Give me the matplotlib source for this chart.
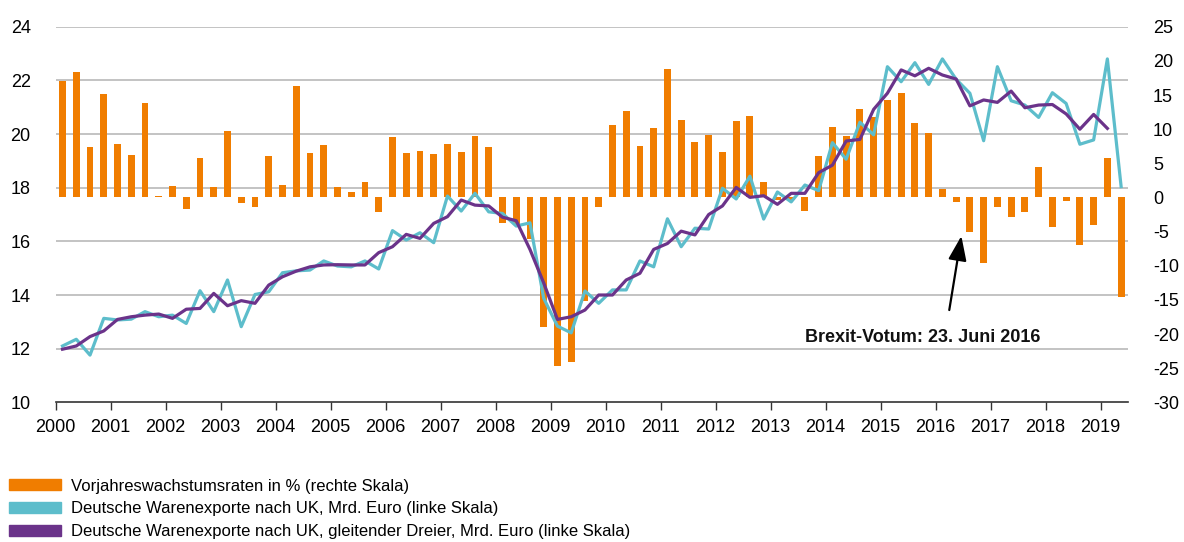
import matplotlib
matplotlib.use("Agg")
import matplotlib.pyplot as plt
from matplotlib.patches import Patch
from matplotlib.transforms import blended_transform_factory

plt.rcParams['font.family'] = ['Liberation Sans', 'DejaVu Sans']
plt.rcParams['font.size'] = 13
plt.rcParams['axes.unicode_minus'] = False

# Quartale 2000Q1 bis 2019Q2
quarters = [f"{y}Q{q}" for y in range(2000, 2020) for q in range(1, 5)][:78]

# Vorjahreswachstumsraten in % (rechte Skala)
growth = [17.1, 18.4, 7.4, 15.1,
          7.8, 6.2, 13.9, 0.2,
          1.7, -1.65, 5.8, 1.5,
          9.7, -0.8, -1.4, 6.1,
          1.8, 16.3, 6.5, 7.7,
          1.6, 0.8, 2.3, -2.2,
          8.8, 6.5, 6.8, 6.4,
          7.8, 6.7, 9.0, 7.4,
          -3.8, -4.0, -6.1, -19.0,
          -24.7, -24.1, -15.2, -1.45,
          10.6, 12.7, 7.6, 10.1,
          18.75, 11.4, 8.1, 9.2,
          6.6, 11.2, 12.0, 2.25,
          -0.4, -0.4, -2.0, 6.1,
          10.3, 9.0, 12.9, 11.8,
          14.3, 15.3, 10.85, 9.5,
          1.3, -0.6, -5.1, -9.65,
          -1.35, -2.9, -2.1, 4.4,
          -4.3, -0.5, -6.9, -4.1,
          5.8, -14.6]

# Deutsche Warenexporte nach UK, Mrd. Euro (linke Skala)
exports = [12.10, 12.35, 11.76, 13.13,
           13.07, 13.10, 13.38, 13.19,
           13.25, 12.94, 14.16, 13.38,
           14.56, 12.82, 14.02, 14.12,
           14.83, 14.90, 14.93, 15.27,
           15.08, 15.05, 15.27, 14.97,
           16.40, 16.05, 16.32, 15.95,
           17.69, 17.13, 17.79, 17.10,
           17.04, 16.57, 16.69, 13.88,
           12.84, 12.59, 14.15, 13.69,
           14.19, 14.19, 15.27, 15.05,
           16.84, 15.80, 16.49, 16.46,
           17.98, 17.58, 18.43, 16.83,
           17.84, 17.47, 18.10, 17.89,
           19.68, 19.06, 20.44, 19.97,
           22.51, 21.95, 22.66, 21.85,
           22.80, 22.04, 21.52, 19.75,
           22.51, 21.24, 21.08, 20.62,
           21.54, 21.14, 19.62, 19.78,
           22.80, 18.04]

# gleitender Dreier (bis 2019Q1)
exports_avg = [11.98, 12.10, 12.45, 12.66,
               13.09, 13.19, 13.25, 13.29,
               13.13, 13.47, 13.50, 14.06,
               13.60, 13.79, 13.69, 14.37,
               14.68, 14.89, 15.05, 15.12,
               15.13, 15.12, 15.12, 15.58,
               15.80, 16.26, 16.11, 16.67,
               16.92, 17.54, 17.35, 17.32,
               16.90, 16.77, 15.70, 14.45,
               13.09, 13.19, 13.44, 14.00,
               14.00, 14.56, 14.81, 15.70,
               15.92, 16.38, 16.24, 17.00,
               17.32, 18.01, 17.64, 17.70,
               17.38, 17.79, 17.79, 18.56,
               18.84, 19.74, 19.80, 20.92,
               21.52, 22.39, 22.17, 22.45,
               22.20, 22.05, 21.05, 21.27,
               21.18, 21.60, 20.98, 21.08,
               21.10, 20.75, 20.18, 20.73,
               20.21]

years = list(range(2000, 2020))
left_ticks = list(range(10, 25, 2))
right_ticks = list(range(-30, 26, 5))

labels = ["Vorjahreswachstumsraten in % (rechte Skala)",
          "Deutsche Warenexporte nach UK, Mrd. Euro (linke Skala)",
          "Deutsche Warenexporte nach UK, gleitender Dreier, Mrd. Euro (linke Skala)"]

c_orange = "#F07D00"
c_cyan = "#5DBDCB"
c_purple = "#6B338A"

x = [int(s[:4]) + (int(s[-1]) - 0.5) / 4 for s in quarters]

fig = plt.figure(figsize=(11.84, 5.42), dpi=100)
ax_bar = fig.add_axes([0.047, 0.2577, 0.9057, 0.693])
ax_line = ax_bar.twinx()
ax_bar.yaxis.tick_right()
ax_line.yaxis.tick_left()

ax_bar.set_xlim(2000, 2019.5)
ax_bar.set_ylim(-30, 25)
ax_line.set_ylim(10, 24)

# Gitterlinien an der linken Skala, hinter den Balken
trans = blended_transform_factory(ax_bar.transAxes, ax_line.transData)
for v in left_ticks[1:]:
    ax_bar.plot([0, 1], [v, v], transform=trans, color="#b3b3b3", lw=1.1, zorder=0.5)

ax_bar.bar(x, growth, width=0.125, color=c_orange, zorder=2)
ax_line.plot(x, exports, color=c_cyan, lw=2.3, zorder=3)
ax_line.plot(x[:len(exports_avg)], exports_avg, color=c_purple, lw=2.3, zorder=4)

ax_bar.set_xticks(years)
ax_bar.set_xticklabels([str(y) for y in years])
ax_bar.tick_params(axis='x', length=6, width=1, pad=6, color="#333333")
ax_bar.set_yticks(right_ticks)
ax_bar.set_yticklabels([str(v) for v in right_ticks])
ax_bar.tick_params(axis='y', length=0, pad=18)
ax_line.set_yticks(left_ticks)
ax_line.set_yticklabels([str(v) for v in left_ticks])
ax_line.tick_params(axis='y', length=0, pad=18)

for sp in ['top', 'left', 'right']:
    ax_bar.spines[sp].set_visible(False)
for sp in ax_line.spines.values():
    sp.set_visible(False)
ax_bar.spines['bottom'].set_color("#333333")
ax_bar.spines['bottom'].set_linewidth(1.2)

ax_line.annotate("", xy=(2016.47, 16.2), xytext=(2016.25, 13.44),
                 arrowprops=dict(arrowstyle="-|>,head_length=0.75,head_width=0.28",
                                 mutation_scale=20, color="black", lw=1.6,
                                 shrinkA=0, shrinkB=0))
ax_line.text(2013.62, 12.43, "Brexit-Votum: 23. Juni 2016", ha='left', va='center',
             fontsize=13, fontweight='bold', color="#111111")

handles = [Patch(color=c_orange), Patch(color=c_cyan), Patch(color=c_purple)]
fig.legend(handles, labels, loc='upper left', bbox_to_anchor=(0.0076, 0.117),
           frameon=False, fontsize=12, handlelength=3.1, handleheight=0.65,
           handletextpad=0.6, labelspacing=0.47, borderaxespad=0, borderpad=0)

fig.savefig("out.png", dpi=100)
